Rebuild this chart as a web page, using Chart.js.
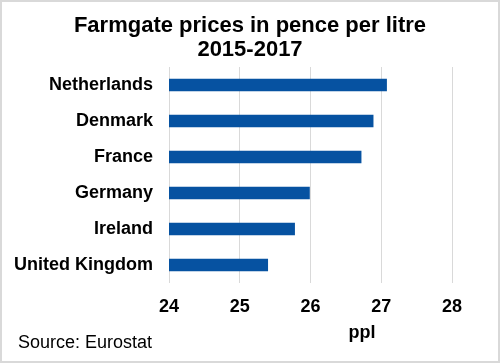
<!DOCTYPE html>
<html>
<head>
<meta charset="utf-8">
<script src="https://cdn.jsdelivr.net/npm/chart.js@4"></script>
<style>
  html, body { margin: 0; padding: 0; background: #fff; }
  #wrap { width: 500px; height: 363px; position: relative; }
</style>
</head>
<body>
<div id="wrap"><canvas id="priceChart" width="500" height="363"></canvas></div>
<script>
const countries = ['Netherlands', 'Denmark', 'France', 'Germany', 'Ireland', 'United Kingdom'];
const pricesPpl = [27.08, 26.89, 26.72, 25.99, 25.78, 25.40];
const titleLines = ['Farmgate prices in pence per litre', '2015-2017'];
const axisMin = 24;
const axisMax = 28;

const font = '"Liberation Sans", Arial, sans-serif';

// frame, title, unit and source are plain text drawn on the canvas
const extras = {
  id: 'extras',
  beforeDraw(chart) {
    const c = chart.ctx;
    c.save();
    c.fillStyle = '#fff';
    c.fillRect(0, 0, chart.width, chart.height);
    c.restore();
  },
  afterDraw(chart) {
    const c = chart.ctx;
    c.save();
    c.strokeStyle = '#d9d9d9';
    c.lineWidth = 2;
    c.strokeRect(1, 1, chart.width - 2, chart.height - 2);

    c.fillStyle = '#000';
    c.textAlign = 'center';
    c.textBaseline = 'middle';
    c.font = 'bold 22px ' + font;
    c.fillText(titleLines[0], 250, 26);
    c.fillText(titleLines[1], 250, 50);

    c.font = 'bold 18px ' + font;
    c.fillText('ppl', 362, 333);

    c.textAlign = 'left';
    c.font = '18px ' + font;
    c.fillText('Source: Eurostat', 18, 343);
    c.restore();
  }
};

const ctx = document.getElementById('priceChart').getContext('2d');
const myChart = new Chart(ctx, {
  type: 'bar',
  data: {
    labels: countries,
    datasets: [{
      data: pricesPpl,
      backgroundColor: '#0652a1',
      borderWidth: 0,
      categoryPercentage: 1,
      barPercentage: 0.35
    }]
  },
  options: {
    indexAxis: 'y',
    responsive: false,
    animation: false,
    layout: { padding: { top: 67, right: 48, left: 0, bottom: 0 } },
    plugins: {
      legend: { display: false },
      title: { display: false },
      tooltip: { enabled: false }
    },
    scales: {
      x: {
        min: axisMin,
        max: axisMax,
        ticks: {
          stepSize: 1,
          padding: 13,
          color: '#000',
          font: { family: font, size: 18, weight: 'bold' }
        },
        grid: { color: '#d9d9d9', lineWidth: 1, drawTicks: false },
        border: { display: false },
        afterFit: s => { s.height = 80; }
      },
      y: {
        ticks: {
          padding: 16,
          color: '#000',
          font: { family: font, size: 18, weight: 'bold' }
        },
        grid: { display: false, drawTicks: false },
        border: { display: false },
        afterFit: s => { s.width = 169; }
      }
    }
  },
  plugins: [extras]
});
</script>
</body>
</html>
